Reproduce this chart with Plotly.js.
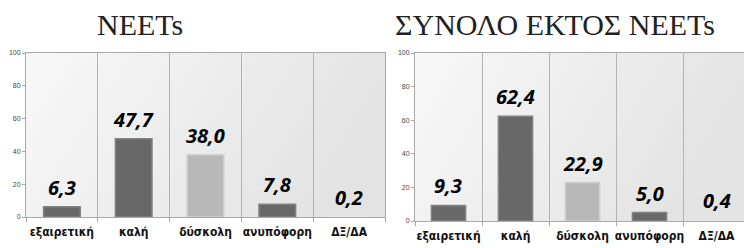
<!DOCTYPE html>
<html>
<head>
<meta charset="utf-8">
<script src="https://cdn.plot.ly/plotly-3.0.1.min.js"></script>
<style>html,body{margin:0;padding:0;background:#fff;}#chart{width:744px;height:248px;}</style>
</head>
<body>
<div id="chart"></div>
<script>
const categories = ['εξαιρετική', 'καλή', 'δύσκολη', 'ανυπόφορη', 'ΔΞ/ΔΑ'];
const neetsValues = [6.3, 47.7, 38.0, 7.8, 0.2];
const otherValues = [9.3, 62.4, 22.9, 5.0, 0.4];
const yTicks = [0, 20, 40, 60, 80, 100];
const chartTitles = ['NEETs', 'ΣΥΝΟΛΟ ΕΚΤΟΣ NEETs'];
const barColors = ['#686868', '#686868', '#b8b8b8', '#686868', '#d6d6d6'];
const barEdges = ['#828282', '#828282', '#cfcfcf', '#828282', '#e6e6e6'];

const W = 744, H = 248;
const fmt = v => v.toFixed(1).replace('.', ',');

const gradSvg = '<svg xmlns="http://www.w3.org/2000/svg" width="100" height="100" preserveAspectRatio="none">' +
  '<defs><linearGradient id="g" x1="0" y1="0" x2="1" y2="0.3">' +
  '<stop offset="0" stop-color="#f8f8f8"/><stop offset="1" stop-color="#e3e3e3"/></linearGradient></defs>' +
  '<rect width="100" height="100" fill="url(#g)"/></svg>';
const gradUri = 'data:image/svg+xml;charset=utf-8,' + encodeURIComponent(gradSvg);

const leftX = [26 / W, 385 / W], rightX = [415 / W, 1];
const leftY = [1 - 217 / H, 1 - 53 / H], rightY = [1 - 221 / H, 1 - 53 / H];

function bars(vals, xa, ya) {
  return {
    type: 'bar', x: categories, y: vals, xaxis: xa, yaxis: ya,
    marker: {color: barColors, line: {color: barEdges, width: 1.5}},
    hoverinfo: 'none', showlegend: false
  };
}

const xCommon = {
  type: 'category', tickson: 'boundaries', showgrid: true, gridcolor: '#b4b4b4', gridwidth: 1,
  showline: true, linecolor: '#a8a8a8', linewidth: 1, mirror: true,
  ticks: 'outside', ticklen: 4, tickcolor: '#a8a8a8', tickangle: 0, automargin: false,
  ticklabelstandoff: 4,
  tickfont: {family: 'DejaVu Sans Condensed, Open Sans, sans-serif', size: 12, color: '#111', weight: 700},
  fixedrange: true, zeroline: false
};
const yCommon = {
  range: [0, 100], tickvals: yTicks, showgrid: false, zeroline: false,
  showline: true, linecolor: '#a8a8a8', linewidth: 1, mirror: true,
  ticks: 'outside', ticklen: 3, tickcolor: '#a8a8a8', automargin: false,
  tickfont: {family: 'Liberation Sans, sans-serif', size: 7, color: '#444'}, fixedrange: true
};

function labelAnns(vals, xr, yr) {
  return vals.map((v, i) => ({
    x: categories[i], y: v, xref: xr, yref: yr, text: fmt(v), showarrow: false,
    yanchor: 'bottom', yshift: 4,
    font: {family: 'Open Sans, sans-serif', size: 20, color: '#000', weight: 700, style: 'italic'}
  }));
}

const layout = {
  width: W, height: H, margin: {l: 0, r: 0, t: 0, b: 0},
  paper_bgcolor: '#ffffff', plot_bgcolor: 'rgba(0,0,0,0)',
  bargap: 0.49, showlegend: false,
  xaxis: Object.assign({}, xCommon, {domain: leftX, anchor: 'y', range: [-0.5, 4.5]}),
  yaxis: Object.assign({}, yCommon, {domain: leftY, anchor: 'x'}),
  xaxis2: Object.assign({}, xCommon, {domain: rightX, anchor: 'y2', range: [-0.5, 4.41]}),
  yaxis2: Object.assign({}, yCommon, {domain: rightY, anchor: 'x2'}),
  images: [
    {source: gradUri, xref: 'paper', yref: 'paper', x: leftX[0], y: leftY[1],
     sizex: leftX[1] - leftX[0], sizey: leftY[1] - leftY[0], sizing: 'stretch', layer: 'below', xanchor: 'left', yanchor: 'top'},
    {source: gradUri, xref: 'paper', yref: 'paper', x: rightX[0], y: rightY[1],
     sizex: rightX[1] - rightX[0], sizey: rightY[1] - rightY[0], sizing: 'stretch', layer: 'below', xanchor: 'left', yanchor: 'top'}
  ],
  annotations: [
    {text: chartTitles[0], xref: 'paper', yref: 'paper', x: 140 / W, y: 1 - 24 / H, showarrow: false,
     xanchor: 'center', yanchor: 'middle', font: {family: 'Liberation Serif, serif', size: 30, color: '#222'}},
    {text: chartTitles[1], xref: 'paper', yref: 'paper', x: 555 / W, y: 1 - 24 / H, showarrow: false,
     xanchor: 'center', yanchor: 'middle', font: {family: 'Liberation Serif, serif', size: 30, color: '#222'}}
  ].concat(labelAnns(neetsValues, 'x', 'y'), labelAnns(otherValues, 'x2', 'y2'))
};

Plotly.newPlot('chart', [bars(neetsValues, 'x', 'y'), bars(otherValues, 'x2', 'y2')], layout, {staticPlot: true, displayModeBar: false});
</script>
</body>
</html>
